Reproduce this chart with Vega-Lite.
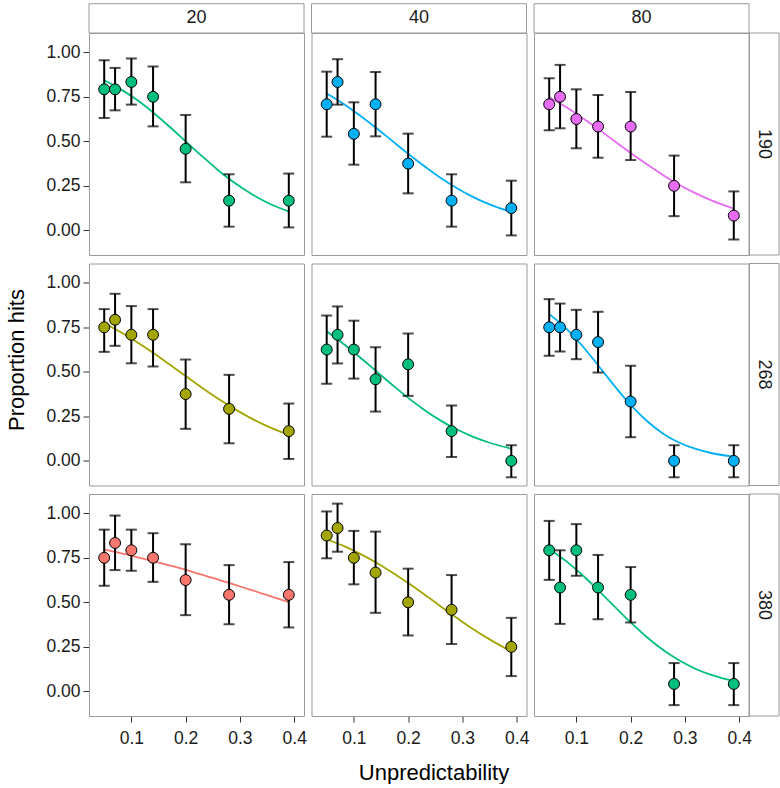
{
"$schema": "https://vega.github.io/schema/vega-lite/v6.json",
"background": "white",
"padding": {"left": 5, "top": 2, "right": 0, "bottom": 0},
"bounds": "flush",
"spacing": {"row": 8.5, "column": 7.5},
"config": {
  "font": "Liberation Sans",
  "view": {"stroke": "#9a9a9a", "strokeWidth": 1},
  "scale": {"continuousPadding": 0},
  "axis": {"grid": false, "domain": false, "tickColor": "#333333", "tickSize": 6, "tickWidth": 1, "labelFontSize": 17.5, "labelColor": "#1a1a1a", "title": null},
  "axisX": {"labelPadding": 7},
  "axisY": {"labelPadding": 3}
},
"data": {"values": [
{"k":"p","rt":190,"n":20,"g":3,"x":0.05,"y":0.792,"lo":0.631,"hi":0.955},
{"k":"p","rt":190,"n":20,"g":3,"x":0.07,"y":0.792,"lo":0.674,"hi":0.912},
{"k":"p","rt":190,"n":20,"g":3,"x":0.10,"y":0.833,"lo":0.706,"hi":0.965},
{"k":"p","rt":190,"n":20,"g":3,"x":0.14,"y":0.750,"lo":0.584,"hi":0.920},
{"k":"p","rt":190,"n":20,"g":3,"x":0.20,"y":0.458,"lo":0.270,"hi":0.648},
{"k":"p","rt":190,"n":20,"g":3,"x":0.28,"y":0.167,"lo":0.021,"hi":0.315},
{"k":"p","rt":190,"n":20,"g":3,"x":0.39,"y":0.167,"lo":0.017,"hi":0.319},
{"k":"p","rt":190,"n":40,"g":4,"x":0.05,"y":0.708,"lo":0.526,"hi":0.891},
{"k":"p","rt":190,"n":40,"g":4,"x":0.07,"y":0.833,"lo":0.706,"hi":0.961},
{"k":"p","rt":190,"n":40,"g":4,"x":0.10,"y":0.542,"lo":0.369,"hi":0.719},
{"k":"p","rt":190,"n":40,"g":4,"x":0.14,"y":0.708,"lo":0.528,"hi":0.889},
{"k":"p","rt":190,"n":40,"g":4,"x":0.20,"y":0.375,"lo":0.208,"hi":0.543},
{"k":"p","rt":190,"n":40,"g":4,"x":0.28,"y":0.167,"lo":0.021,"hi":0.315},
{"k":"p","rt":190,"n":40,"g":4,"x":0.39,"y":0.125,"lo":-0.028,"hi":0.279},
{"k":"p","rt":190,"n":80,"g":5,"x":0.05,"y":0.708,"lo":0.562,"hi":0.854},
{"k":"p","rt":190,"n":80,"g":5,"x":0.07,"y":0.750,"lo":0.573,"hi":0.929},
{"k":"p","rt":190,"n":80,"g":5,"x":0.10,"y":0.625,"lo":0.461,"hi":0.792},
{"k":"p","rt":190,"n":80,"g":5,"x":0.14,"y":0.583,"lo":0.408,"hi":0.760},
{"k":"p","rt":190,"n":80,"g":5,"x":0.20,"y":0.583,"lo":0.395,"hi":0.777},
{"k":"p","rt":190,"n":80,"g":5,"x":0.28,"y":0.250,"lo":0.080,"hi":0.420},
{"k":"p","rt":190,"n":80,"g":5,"x":0.39,"y":0.083,"lo":-0.051,"hi":0.219},
{"k":"p","rt":268,"n":20,"g":2,"x":0.05,"y":0.750,"lo":0.612,"hi":0.852},
{"k":"p","rt":268,"n":20,"g":2,"x":0.07,"y":0.792,"lo":0.646,"hi":0.938},
{"k":"p","rt":268,"n":20,"g":2,"x":0.10,"y":0.708,"lo":0.548,"hi":0.869},
{"k":"p","rt":268,"n":20,"g":2,"x":0.14,"y":0.708,"lo":0.530,"hi":0.852},
{"k":"p","rt":268,"n":20,"g":2,"x":0.20,"y":0.375,"lo":0.180,"hi":0.569},
{"k":"p","rt":268,"n":20,"g":2,"x":0.28,"y":0.292,"lo":0.099,"hi":0.483},
{"k":"p","rt":268,"n":20,"g":2,"x":0.39,"y":0.167,"lo":0.011,"hi":0.322},
{"k":"p","rt":268,"n":40,"g":3,"x":0.05,"y":0.625,"lo":0.433,"hi":0.816},
{"k":"p","rt":268,"n":40,"g":3,"x":0.07,"y":0.708,"lo":0.547,"hi":0.867},
{"k":"p","rt":268,"n":40,"g":3,"x":0.10,"y":0.625,"lo":0.462,"hi":0.787},
{"k":"p","rt":268,"n":40,"g":3,"x":0.14,"y":0.458,"lo":0.277,"hi":0.638},
{"k":"p","rt":268,"n":40,"g":3,"x":0.20,"y":0.542,"lo":0.365,"hi":0.715},
{"k":"p","rt":268,"n":40,"g":3,"x":0.28,"y":0.167,"lo":0.022,"hi":0.311},
{"k":"p","rt":268,"n":40,"g":3,"x":0.39,"y":0.000,"lo":-0.092,"hi":0.088},
{"k":"p","rt":268,"n":80,"g":4,"x":0.05,"y":0.750,"lo":0.590,"hi":0.908},
{"k":"p","rt":268,"n":80,"g":4,"x":0.07,"y":0.750,"lo":0.614,"hi":0.883},
{"k":"p","rt":268,"n":80,"g":4,"x":0.10,"y":0.708,"lo":0.571,"hi":0.848},
{"k":"p","rt":268,"n":80,"g":4,"x":0.14,"y":0.667,"lo":0.496,"hi":0.837},
{"k":"p","rt":268,"n":80,"g":4,"x":0.20,"y":0.333,"lo":0.133,"hi":0.534},
{"k":"p","rt":268,"n":80,"g":4,"x":0.28,"y":0.000,"lo":-0.092,"hi":0.088},
{"k":"p","rt":268,"n":80,"g":4,"x":0.39,"y":0.000,"lo":-0.092,"hi":0.088},
{"k":"p","rt":380,"n":20,"g":1,"x":0.05,"y":0.750,"lo":0.593,"hi":0.908},
{"k":"p","rt":380,"n":20,"g":1,"x":0.07,"y":0.833,"lo":0.681,"hi":0.987},
{"k":"p","rt":380,"n":20,"g":1,"x":0.10,"y":0.792,"lo":0.677,"hi":0.908},
{"k":"p","rt":380,"n":20,"g":1,"x":0.14,"y":0.750,"lo":0.615,"hi":0.888},
{"k":"p","rt":380,"n":20,"g":1,"x":0.20,"y":0.625,"lo":0.428,"hi":0.826},
{"k":"p","rt":380,"n":20,"g":1,"x":0.28,"y":0.542,"lo":0.377,"hi":0.709},
{"k":"p","rt":380,"n":20,"g":1,"x":0.39,"y":0.542,"lo":0.359,"hi":0.726},
{"k":"p","rt":380,"n":40,"g":2,"x":0.05,"y":0.875,"lo":0.747,"hi":1.010},
{"k":"p","rt":380,"n":40,"g":2,"x":0.07,"y":0.917,"lo":0.784,"hi":1.054},
{"k":"p","rt":380,"n":40,"g":2,"x":0.10,"y":0.750,"lo":0.601,"hi":0.901},
{"k":"p","rt":380,"n":40,"g":2,"x":0.14,"y":0.667,"lo":0.441,"hi":0.897},
{"k":"p","rt":380,"n":40,"g":2,"x":0.20,"y":0.500,"lo":0.314,"hi":0.689},
{"k":"p","rt":380,"n":40,"g":2,"x":0.28,"y":0.458,"lo":0.266,"hi":0.653},
{"k":"p","rt":380,"n":40,"g":2,"x":0.39,"y":0.250,"lo":0.086,"hi":0.413},
{"k":"p","rt":380,"n":80,"g":3,"x":0.05,"y":0.792,"lo":0.626,"hi":0.957},
{"k":"p","rt":380,"n":80,"g":3,"x":0.07,"y":0.583,"lo":0.379,"hi":0.792},
{"k":"p","rt":380,"n":80,"g":3,"x":0.10,"y":0.792,"lo":0.649,"hi":0.939},
{"k":"p","rt":380,"n":80,"g":3,"x":0.14,"y":0.583,"lo":0.405,"hi":0.766},
{"k":"p","rt":380,"n":80,"g":3,"x":0.20,"y":0.542,"lo":0.387,"hi":0.698},
{"k":"p","rt":380,"n":80,"g":3,"x":0.28,"y":0.042,"lo":-0.077,"hi":0.159},
{"k":"p","rt":380,"n":80,"g":3,"x":0.39,"y":0.042,"lo":-0.077,"hi":0.159},
{"k":"f","rt":190,"n":20,"g":3,"x":0.05,"y":0.843},{"k":"f","rt":190,"n":20,"g":3,"x":0.08,"y":0.793},{"k":"f","rt":190,"n":20,"g":3,"x":0.11,"y":0.733},{"k":"f","rt":190,"n":20,"g":3,"x":0.14,"y":0.662},{"k":"f","rt":190,"n":20,"g":3,"x":0.17,"y":0.583},{"k":"f","rt":190,"n":20,"g":3,"x":0.20,"y":0.500},{"k":"f","rt":190,"n":20,"g":3,"x":0.23,"y":0.417},{"k":"f","rt":190,"n":20,"g":3,"x":0.26,"y":0.338},{"k":"f","rt":190,"n":20,"g":3,"x":0.29,"y":0.267},{"k":"f","rt":190,"n":20,"g":3,"x":0.32,"y":0.207},{"k":"f","rt":190,"n":20,"g":3,"x":0.35,"y":0.157},{"k":"f","rt":190,"n":20,"g":3,"x":0.39,"y":0.106},
{"k":"f","rt":190,"n":40,"g":4,"x":0.05,"y":0.769},{"k":"f","rt":190,"n":40,"g":4,"x":0.08,"y":0.713},{"k":"f","rt":190,"n":40,"g":4,"x":0.11,"y":0.648},{"k":"f","rt":190,"n":40,"g":4,"x":0.14,"y":0.578},{"k":"f","rt":190,"n":40,"g":4,"x":0.17,"y":0.504},{"k":"f","rt":190,"n":40,"g":4,"x":0.20,"y":0.430},{"k":"f","rt":190,"n":40,"g":4,"x":0.23,"y":0.360},{"k":"f","rt":190,"n":40,"g":4,"x":0.26,"y":0.294},{"k":"f","rt":190,"n":40,"g":4,"x":0.29,"y":0.237},{"k":"f","rt":190,"n":40,"g":4,"x":0.32,"y":0.187},{"k":"f","rt":190,"n":40,"g":4,"x":0.35,"y":0.146},{"k":"f","rt":190,"n":40,"g":4,"x":0.39,"y":0.103},
{"k":"f","rt":190,"n":80,"g":5,"x":0.05,"y":0.748},{"k":"f","rt":190,"n":80,"g":5,"x":0.08,"y":0.694},{"k":"f","rt":190,"n":80,"g":5,"x":0.11,"y":0.634},{"k":"f","rt":190,"n":80,"g":5,"x":0.14,"y":0.570},{"k":"f","rt":190,"n":80,"g":5,"x":0.17,"y":0.502},{"k":"f","rt":190,"n":80,"g":5,"x":0.20,"y":0.435},{"k":"f","rt":190,"n":80,"g":5,"x":0.23,"y":0.371},{"k":"f","rt":190,"n":80,"g":5,"x":0.26,"y":0.310},{"k":"f","rt":190,"n":80,"g":5,"x":0.29,"y":0.255},{"k":"f","rt":190,"n":80,"g":5,"x":0.32,"y":0.208},{"k":"f","rt":190,"n":80,"g":5,"x":0.35,"y":0.167},{"k":"f","rt":190,"n":80,"g":5,"x":0.39,"y":0.122},
{"k":"f","rt":268,"n":20,"g":2,"x":0.05,"y":0.773},{"k":"f","rt":268,"n":20,"g":2,"x":0.08,"y":0.723},{"k":"f","rt":268,"n":20,"g":2,"x":0.11,"y":0.667},{"k":"f","rt":268,"n":20,"g":2,"x":0.14,"y":0.607},{"k":"f","rt":268,"n":20,"g":2,"x":0.17,"y":0.542},{"k":"f","rt":268,"n":20,"g":2,"x":0.20,"y":0.476},{"k":"f","rt":268,"n":20,"g":2,"x":0.23,"y":0.411},{"k":"f","rt":268,"n":20,"g":2,"x":0.26,"y":0.349},{"k":"f","rt":268,"n":20,"g":2,"x":0.29,"y":0.292},{"k":"f","rt":268,"n":20,"g":2,"x":0.32,"y":0.240},{"k":"f","rt":268,"n":20,"g":2,"x":0.35,"y":0.195},{"k":"f","rt":268,"n":20,"g":2,"x":0.39,"y":0.146},
{"k":"f","rt":268,"n":40,"g":3,"x":0.05,"y":0.726},{"k":"f","rt":268,"n":40,"g":3,"x":0.08,"y":0.659},{"k":"f","rt":268,"n":40,"g":3,"x":0.11,"y":0.585},{"k":"f","rt":268,"n":40,"g":3,"x":0.14,"y":0.507},{"k":"f","rt":268,"n":40,"g":3,"x":0.17,"y":0.429},{"k":"f","rt":268,"n":40,"g":3,"x":0.20,"y":0.354},{"k":"f","rt":268,"n":40,"g":3,"x":0.23,"y":0.286},{"k":"f","rt":268,"n":40,"g":3,"x":0.26,"y":0.226},{"k":"f","rt":268,"n":40,"g":3,"x":0.29,"y":0.176},{"k":"f","rt":268,"n":40,"g":3,"x":0.32,"y":0.135},{"k":"f","rt":268,"n":40,"g":3,"x":0.35,"y":0.102},{"k":"f","rt":268,"n":40,"g":3,"x":0.39,"y":0.069},
{"k":"f","rt":268,"n":80,"g":4,"x":0.05,"y":0.824},{"k":"f","rt":268,"n":80,"g":4,"x":0.08,"y":0.747},{"k":"f","rt":268,"n":80,"g":4,"x":0.11,"y":0.649},{"k":"f","rt":268,"n":80,"g":4,"x":0.14,"y":0.537},{"k":"f","rt":268,"n":80,"g":4,"x":0.17,"y":0.422},{"k":"f","rt":268,"n":80,"g":4,"x":0.20,"y":0.314},{"k":"f","rt":268,"n":80,"g":4,"x":0.23,"y":0.224},{"k":"f","rt":268,"n":80,"g":4,"x":0.26,"y":0.153},{"k":"f","rt":268,"n":80,"g":4,"x":0.29,"y":0.102},{"k":"f","rt":268,"n":80,"g":4,"x":0.32,"y":0.067},{"k":"f","rt":268,"n":80,"g":4,"x":0.35,"y":0.043},{"k":"f","rt":268,"n":80,"g":4,"x":0.39,"y":0.024},
{"k":"f","rt":380,"n":20,"g":1,"x":0.05,"y":0.796},{"k":"f","rt":380,"n":20,"g":1,"x":0.08,"y":0.776},{"k":"f","rt":380,"n":20,"g":1,"x":0.11,"y":0.754},{"k":"f","rt":380,"n":20,"g":1,"x":0.14,"y":0.731},{"k":"f","rt":380,"n":20,"g":1,"x":0.17,"y":0.707},{"k":"f","rt":380,"n":20,"g":1,"x":0.20,"y":0.682},{"k":"f","rt":380,"n":20,"g":1,"x":0.23,"y":0.655},{"k":"f","rt":380,"n":20,"g":1,"x":0.26,"y":0.628},{"k":"f","rt":380,"n":20,"g":1,"x":0.29,"y":0.599},{"k":"f","rt":380,"n":20,"g":1,"x":0.32,"y":0.570},{"k":"f","rt":380,"n":20,"g":1,"x":0.35,"y":0.541},{"k":"f","rt":380,"n":20,"g":1,"x":0.39,"y":0.501},
{"k":"f","rt":380,"n":40,"g":2,"x":0.05,"y":0.854},{"k":"f","rt":380,"n":40,"g":2,"x":0.08,"y":0.818},{"k":"f","rt":380,"n":40,"g":2,"x":0.11,"y":0.775},{"k":"f","rt":380,"n":40,"g":2,"x":0.14,"y":0.725},{"k":"f","rt":380,"n":40,"g":2,"x":0.17,"y":0.669},{"k":"f","rt":380,"n":40,"g":2,"x":0.20,"y":0.608},{"k":"f","rt":380,"n":40,"g":2,"x":0.23,"y":0.544},{"k":"f","rt":380,"n":40,"g":2,"x":0.26,"y":0.477},{"k":"f","rt":380,"n":40,"g":2,"x":0.29,"y":0.412},{"k":"f","rt":380,"n":40,"g":2,"x":0.32,"y":0.349},{"k":"f","rt":380,"n":40,"g":2,"x":0.35,"y":0.292},{"k":"f","rt":380,"n":40,"g":2,"x":0.39,"y":0.224},
{"k":"f","rt":380,"n":80,"g":3,"x":0.05,"y":0.800},{"k":"f","rt":380,"n":80,"g":3,"x":0.08,"y":0.734},{"k":"f","rt":380,"n":80,"g":3,"x":0.11,"y":0.656},{"k":"f","rt":380,"n":80,"g":3,"x":0.14,"y":0.569},{"k":"f","rt":380,"n":80,"g":3,"x":0.17,"y":0.477},{"k":"f","rt":380,"n":80,"g":3,"x":0.20,"y":0.387},{"k":"f","rt":380,"n":80,"g":3,"x":0.23,"y":0.304},{"k":"f","rt":380,"n":80,"g":3,"x":0.26,"y":0.232},{"k":"f","rt":380,"n":80,"g":3,"x":0.29,"y":0.173},{"k":"f","rt":380,"n":80,"g":3,"x":0.32,"y":0.126},{"k":"f","rt":380,"n":80,"g":3,"x":0.35,"y":0.091},{"k":"f","rt":380,"n":80,"g":3,"x":0.39,"y":0.058}
]},
"facet": {
  "row": {"field": "rt", "type": "ordinal", "header": {"title": "Proportion hits", "titleOrient": "left", "titleFontSize": 22, "titleFontWeight": "normal", "titleColor": "black", "titlePadding": 6, "labels": false}},
  "column": {"field": "n", "type": "ordinal", "header": {"title": "Unpredictability", "titleOrient": "bottom", "titleFontSize": 22, "titleFontWeight": "normal", "titleColor": "black", "titlePadding": 6, "labels": false}}
},
"spec": {
  "width": 215,
  "height": 222,
  "layer": [
    {"transform": [{"filter": "datum.k === 'f' && datum.x === 0.05 && datum.rt === 190"}],
     "mark": {"type": "rect", "fill": "transparent", "stroke": "#9a9a9a", "strokeWidth": 1},
     "encoding": {"x": {"datum": 0.022, "type": "quantitative", "scale": {"domain": [0.022, 0.418], "padding": 0, "nice": false, "zero": false}}, "x2": {"datum": 0.418}, "y": {"datum": 1.108, "type": "quantitative", "scale": {"domain": [-0.138, 1.108], "padding": 0, "nice": false, "zero": false}}, "y2": {"datum": 1.2724}}},
    {"transform": [{"filter": "datum.k === 'f' && datum.x === 0.05 && datum.rt === 190"}],
     "mark": {"type": "text", "fontSize": 18, "color": "#1a1a1a", "align": "center", "baseline": "middle"},
     "encoding": {"x": {"datum": 0.22, "type": "quantitative"}, "y": {"datum": 1.19, "type": "quantitative"}, "text": {"field": "n", "type": "nominal"}}},
    {"transform": [{"filter": "datum.k === 'f' && datum.x === 0.05 && datum.n === 80"}],
     "mark": {"type": "rect", "fill": "transparent", "stroke": "#9a9a9a", "strokeWidth": 1},
     "encoding": {"x": {"datum": 0.418, "type": "quantitative"}, "x2": {"datum": 0.4733}, "y": {"datum": -0.138, "type": "quantitative"}, "y2": {"datum": 1.108}}},
    {"transform": [{"filter": "datum.k === 'f' && datum.x === 0.05 && datum.n === 80"}],
     "mark": {"type": "text", "fontSize": 18, "color": "#1a1a1a", "align": "center", "baseline": "middle", "angle": 90},
     "encoding": {"x": {"datum": 0.4457, "type": "quantitative"}, "y": {"datum": 0.485, "type": "quantitative"}, "text": {"field": "rt", "type": "nominal"}}},
    {"transform": [{"filter": "datum.k === 'f'"}],
     "mark": {"type": "line", "strokeWidth": 1.8, "interpolate": "monotone"},
     "encoding": {
       "x": {"field": "x", "type": "quantitative", "scale": {"domain": [0.022, 0.418], "padding": 0, "nice": false, "zero": false}, "axis": {"values": [0.1, 0.2, 0.3, 0.4], "format": ".1f"}},
       "y": {"field": "y", "type": "quantitative", "scale": {"domain": [-0.138, 1.108], "padding": 0, "nice": false, "zero": false}, "axis": {"values": [0, 0.25, 0.5, 0.75, 1], "format": ".2f"}},
       "color": {"field": "g", "type": "nominal", "scale": {"domain": [1, 2, 3, 4, 5], "range": ["#F8766D", "#A3A500", "#00BF7D", "#00B0F6", "#E76BF3"]}, "legend": null}}},
    {"transform": [{"filter": "datum.k === 'p'"}],
     "mark": {"type": "rule", "color": "black", "strokeWidth": 2},
     "encoding": {"x": {"field": "x", "type": "quantitative"}, "y": {"field": "lo", "type": "quantitative"}, "y2": {"field": "hi"}}},
    {"transform": [{"filter": "datum.k === 'p'"}],
     "mark": {"type": "tick", "orient": "horizontal", "color": "black", "size": 11, "thickness": 2},
     "encoding": {"x": {"field": "x", "type": "quantitative"}, "y": {"field": "lo", "type": "quantitative"}}},
    {"transform": [{"filter": "datum.k === 'p'"}],
     "mark": {"type": "tick", "orient": "horizontal", "color": "black", "size": 11, "thickness": 2},
     "encoding": {"x": {"field": "x", "type": "quantitative"}, "y": {"field": "hi", "type": "quantitative"}}},
    {"transform": [{"filter": "datum.k === 'p'"}],
     "mark": {"type": "circle", "size": 120, "opacity": 1, "stroke": "black", "strokeWidth": 1},
     "encoding": {"x": {"field": "x", "type": "quantitative"}, "y": {"field": "y", "type": "quantitative"}, "color": {"field": "g", "type": "nominal", "legend": null}}}
  ]
}
}
